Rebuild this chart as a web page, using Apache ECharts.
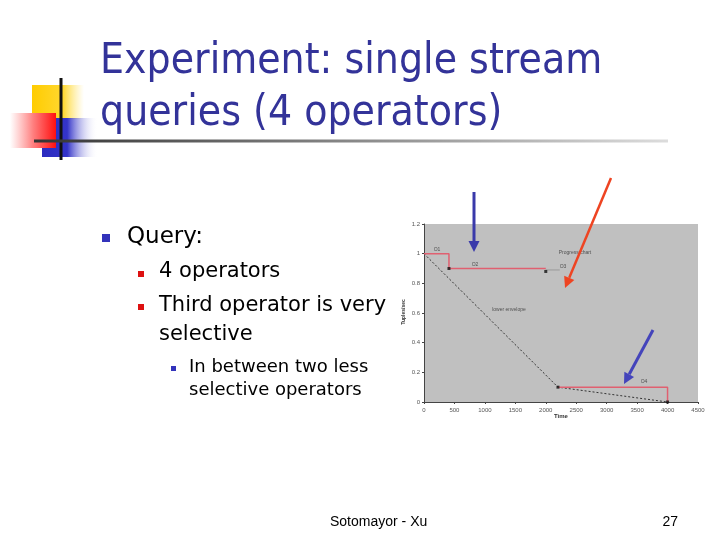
<!DOCTYPE html>
<html>
<head>
<meta charset="utf-8">
<script src="https://cdn.jsdelivr.net/npm/echarts@6/dist/echarts.min.js"></script>
<style>html,body{margin:0;padding:0;background:#fff}#c{width:720px;height:540px}</style>
</head>
<body>
<div id="c"></div>
<script>
// ---- data ----
const xTickValues = [0, 500, 1000, 1500, 2000, 2500, 3000, 3500, 4000, 4500];
const yTickValues = [0, 0.2, 0.4, 0.6, 0.8, 1, 1.2];
const opUpperStep = [[0, 1], [410, 1], [410, 0.9], [2000, 0.9]];
const opUpperTail = [[2000, 0.89], [2230, 0.89]];
const opLowerStep = [[2200, 0.1], [4000, 0.1], [4000, 0]];
const lowerEnvelope = [[0, 1], [2200, 0.1], [4000, 0]];
const markerPoints = [[410, 0.9], [2000, 0.88], [2200, 0.1], [4000, 0]];
const annotations = [
  ['O1', 213, 1.025], ['O2', 838, 0.924], ['O3', 2283, 0.91],
  ['Progress chart', 2480, 1.01], ['lower envelope', 1396, 0.62], ['O4', 3613, 0.135]
];
const titleLines = ['Experiment: single stream', 'queries (4 operators)'];
const bulletL1 = 'Query:';
const bulletL2 = ['4 operators', 'Third operator is very', 'selective'];
const bulletL3 = ['In between two less', 'selective operators'];
const footerText = 'Sotomayor - Xu';
const pageNumber = '27';

const chart = echarts.init(document.getElementById('c'), null, {renderer: 'canvas'});

function arrow(x1, y1, x2, y2, color, w, head) {
  const dx = x2 - x1, dy = y2 - y1, L = Math.sqrt(dx*dx + dy*dy);
  const ux = dx / L, uy = dy / L, px = -uy, py = ux;
  const bx = x2 - ux * head, by = y2 - uy * head;
  return [
    {type: 'line', shape: {x1: x1, y1: y1, x2: bx, y2: by}, style: {stroke: color, lineWidth: w}, z: 100},
    {type: 'polygon', shape: {points: [[x2, y2], [bx + px * head * 0.5, by + py * head * 0.5], [bx - px * head * 0.5, by - py * head * 0.5]]}, style: {fill: color}, z: 100}
  ];
}

const graphics = [
  // decoration
  {type: 'rect', shape: {x: 32, y: 85, width: 52, height: 34}, style: {fill: new echarts.graphic.LinearGradient(0, 0, 1, 0, [{offset: 0, color: '#ffcc00'}, {offset: 0.6, color: '#ffd830'}, {offset: 1, color: 'rgba(255,230,120,0)'}])}, z: 1},
  {type: 'rect', shape: {x: 42, y: 118, width: 56, height: 39}, style: {fill: new echarts.graphic.LinearGradient(0, 0, 1, 0, [{offset: 0, color: '#2b2bc0'}, {offset: 0.45, color: '#3434c8'}, {offset: 1, color: 'rgba(255,255,255,0)'}])}, z: 2},
  {type: 'rect', shape: {x: 10, y: 113, width: 46, height: 35}, style: {fill: new echarts.graphic.LinearGradient(0, 0, 1, 0, [{offset: 0, color: 'rgba(255,255,255,0.9)'}, {offset: 0.5, color: '#ff8080'}, {offset: 1, color: '#ff1010'}])}, z: 3},
  {type: 'line', shape: {x1: 61, y1: 78, x2: 61, y2: 160}, style: {stroke: '#111', lineWidth: 3}, z: 4},
  {type: 'line', shape: {x1: 34, y1: 141, x2: 668, y2: 141}, style: {stroke: new echarts.graphic.LinearGradient(0, 0, 1, 0, [{offset: 0, color: '#333'}, {offset: 0.5, color: '#888'}, {offset: 1, color: '#ddd'}]), lineWidth: 3}, z: 4},
  // title
  {type: 'text', x: 100, y: 62, scaleX: 0.905, style: {x: 0, y: 0, text: titleLines[0], font: '42px "DejaVu Sans"', fill: '#333399', textAlign: 'left', textVerticalAlign: 'middle'}, z: 5},
  {type: 'text', x: 100, y: 114, scaleX: 0.905, style: {x: 0, y: 0, text: titleLines[1], font: '42px "DejaVu Sans"', fill: '#333399', textAlign: 'left', textVerticalAlign: 'middle'}, z: 5},
  // bullets
  {type: 'rect', shape: {x: 102, y: 234, width: 8, height: 8}, style: {fill: '#3333bb'}},
  {type: 'text', style: {x: 127, y: 237, text: bulletL1, font: '23px "DejaVu Sans"', fill: '#000', textVerticalAlign: 'middle'}},
  {type: 'rect', shape: {x: 138, y: 271, width: 6, height: 6}, style: {fill: '#dd1111'}},
  {type: 'text', style: {x: 159, y: 272, text: bulletL2[0], font: '21px "DejaVu Sans"', fill: '#000', textVerticalAlign: 'middle'}},
  {type: 'rect', shape: {x: 138, y: 304, width: 6, height: 6}, style: {fill: '#dd1111'}},
  {type: 'text', style: {x: 159, y: 306, text: bulletL2[1], font: '21px "DejaVu Sans"', fill: '#000', textVerticalAlign: 'middle'}},
  {type: 'text', style: {x: 159, y: 335, text: bulletL2[2], font: '21px "DejaVu Sans"', fill: '#000', textVerticalAlign: 'middle'}},
  {type: 'rect', shape: {x: 171, y: 366, width: 5, height: 5}, style: {fill: '#3333bb'}},
  {type: 'text', style: {x: 189, y: 367, text: bulletL3[0], font: '18px "DejaVu Sans"', fill: '#000', textVerticalAlign: 'middle'}},
  {type: 'text', style: {x: 189, y: 390, text: bulletL3[1], font: '18px "DejaVu Sans"', fill: '#000', textVerticalAlign: 'middle'}},
  // footer
  {type: 'text', style: {x: 330, y: 522, text: footerText, font: '14px "Liberation Sans"', fill: '#000', textVerticalAlign: 'middle'}},
  {type: 'text', style: {x: 678, y: 522, text: pageNumber, font: '14px "Liberation Sans"', fill: '#000', textAlign: 'right', textVerticalAlign: 'middle'}},
  // chart axis titles
  {type: 'text', x: 404, y: 312, rotation: Math.PI / 2, style: {x: 0, y: 0, text: 'Tuples/sec', font: 'bold 5px "Liberation Sans"', fill: '#333', textAlign: 'center', textVerticalAlign: 'middle'}},
  {type: 'text', style: {x: 561, y: 416, text: 'Time', font: 'bold 6px "Liberation Sans"', fill: '#333', textAlign: 'center', textVerticalAlign: 'middle'}}
]
.concat(arrow(474, 192, 474, 252, '#3a3aaa', 3, 11))
.concat(arrow(611, 178, 565, 288, '#ee4422', 2.5, 11))
.concat(arrow(653, 330, 624, 384, '#4444bb', 3, 11));

const option = {
  animation: false,
  backgroundColor: '#fff',
  grid: {left: 424, top: 224, width: 274, height: 178, show: true, backgroundColor: '#c0c0c0', borderWidth: 0},
  xAxis: {
    type: 'value', min: 0, max: 4500, interval: 500,
    axisLine: {show: true, lineStyle: {color: '#444', width: 1}},
    axisTick: {show: true, length: 2, lineStyle: {color: '#444'}},
    splitLine: {show: false},
    axisLabel: {fontSize: 6, color: '#555', margin: 5, fontFamily: 'Liberation Sans',
      formatter: v => String(v)}
  },
  yAxis: {
    type: 'value', min: 0, max: 1.2, interval: 0.2,
    axisLine: {show: true, lineStyle: {color: '#444', width: 1}},
    axisTick: {show: true, length: 2, lineStyle: {color: '#444'}},
    splitLine: {show: false},
    axisLabel: {fontSize: 6, color: '#555', margin: 4, fontFamily: 'Liberation Sans',
      formatter: v => String(+v.toFixed(1))}
  },
  series: [
    {type: 'line', data: lowerEnvelope, symbol: 'none', lineStyle: {color: '#333', width: 1, type: [2, 2]}, z: 3},
    {type: 'line', data: opUpperStep, symbol: 'none', lineStyle: {color: '#e06070', width: 1.5}, z: 4},
    {type: 'line', data: opUpperTail, symbol: 'none', lineStyle: {color: '#999', width: 1}, z: 4},
    {type: 'line', data: opLowerStep, symbol: 'none', lineStyle: {color: '#e06070', width: 1.5}, z: 4},
    {type: 'scatter', data: markerPoints, symbol: 'rect', symbolSize: 3, itemStyle: {color: '#111'}, z: 5},
    {type: 'scatter', symbolSize: 0, z: 6,
      data: annotations.map(a => ({value: [a[1], a[2]], name: a[0]})),
      label: {show: true, position: 'inside', formatter: p => p.name, fontSize: 5, color: '#333', fontFamily: 'Liberation Sans'}}
  ],
  graphic: graphics
};
chart.setOption(option);
</script>
</body>
</html>
